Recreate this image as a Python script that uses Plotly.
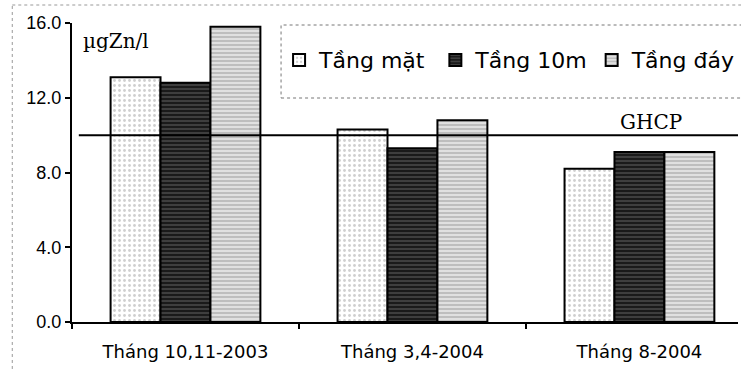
import plotly.graph_objects as go

categories = ["Tháng 10,11-2003", "Tháng 3,4-2004", "Tháng 8-2004"]
series_names = ["Tầng mặt", "Tầng 10m", "Tầng đáy"]
tang_mat = [13.1, 10.3, 8.2]
tang_10m = [12.8, 9.3, 9.1]
tang_day = [15.8, 10.8, 9.1]
ghcp = 10.0
y_ticks = [0, 4, 8, 12, 16]

x_pos = list(range(len(categories)))

styles = [
    dict(color="#f7f7f7", pattern=dict(shape=".", fgcolor="#a0a0a0", bgcolor="#ffffff", size=5, solidity=0.25)),
    dict(color="#2a2a2a", pattern=dict(shape="-", fgcolor="#808080", bgcolor="#1a1a1a", size=4, solidity=0.35)),
    dict(color="#c8c8c8", pattern=dict(shape="-", fgcolor="#8c8c8c", bgcolor="#e0e0e0", size=4, solidity=0.4)),
]

sans = "DejaVu Sans, Verdana, sans-serif"
arial = "Liberation Sans, Arial, sans-serif"
serif = "DejaVu Serif, Times New Roman, serif"

legend_names = ["legend", "legend2", "legend3"]
legend_starts_px = [280, 437, 594]

fig = go.Figure()
for name, vals, st, lg in zip(series_names, [tang_mat, tang_10m, tang_day], styles, legend_names):
    fig.add_trace(go.Bar(
        x=x_pos, y=vals, name=name, legend=lg,
        marker=dict(color=st["color"], pattern=st["pattern"],
                    line=dict(color="black", width=2)),
    ))

x_max = -0.5 + 669 / 228

legend_common = dict(orientation="h", xanchor="left", y=0.876, yanchor="middle",
                     font=dict(size=22, family=sans, color="black"),
                     bgcolor="rgba(0,0,0,0)", borderwidth=0)

layout_legends = {}
for lg, px in zip(legend_names, legend_starts_px):
    layout_legends[lg] = dict(legend_common, x=(px - 72) / 669)

fig.update_layout(
    width=741, height=372,
    margin=dict(l=72, r=0, t=23, b=50),
    paper_bgcolor="white", plot_bgcolor="white",
    barmode="group", bargap=0.34, bargroupgap=0,
    font=dict(family=arial, size=18, color="black"),
    showlegend=True,
    xaxis=dict(range=[-0.5, x_max], tickmode="array", tickvals=x_pos, ticktext=categories,
               ticks="", showline=True, linecolor="black", linewidth=2, showgrid=False,
               zeroline=False, tickfont=dict(size=18, family=sans), ticklabelstandoff=12,
               minor=dict(tickmode="array", tickvals=[-0.5, 0.5, 1.5, 2.5], ticks="outside",
                          ticklen=5, tickwidth=2, tickcolor="black", showgrid=False)),
    yaxis=dict(range=[0, 16], tickmode="array", tickvals=y_ticks,
               ticktext=[f"{v:.1f}" for v in y_ticks],
               ticks="outside", ticklen=5, tickwidth=2, tickcolor="black",
               showline=True, linecolor="black", linewidth=2, showgrid=False,
               zeroline=False, tickfont=dict(size=18, family=arial)),
    **layout_legends,
)

# GHCP guideline
fig.add_shape(type="line", xref="x", yref="y", x0=-0.47, x1=x_max, y0=ghcp, y1=ghcp,
              line=dict(color="black", width=2), layer="above")
fig.add_annotation(x=2.05, y=ghcp, xref="x", yref="y", text="GHCP", showarrow=False,
                   yanchor="bottom", yshift=-1, font=dict(family=serif, size=20, color="black"))
# unit label
fig.add_annotation(x=-0.46, y=16, xref="x", yref="y", text="µgZn/l", showarrow=False,
                   xanchor="left", yanchor="top", yshift=-4,
                   font=dict(family=serif, size=20, color="black"))
# legend box (dotted)
fig.add_shape(type="rect", xref="paper", yref="paper",
              x0=(282 - 72) / 669, x1=1.02, y0=1 - (98 - 23) / 299, y1=1 - (25 - 23) / 299,
              line=dict(color="#777777", width=1, dash="dot"), fillcolor="rgba(0,0,0,0)")
# outer chart frame (dotted)
fx = (12 - 72) / 669
fy = 1 + (23 - 5) / 299
fig.add_shape(type="line", xref="paper", yref="paper",
              x0=fx, x1=fx, y0=-50 / 299 - 0.01, y1=fy,
              line=dict(color="#999999", width=1, dash="dot"))
fig.add_shape(type="line", xref="paper", yref="paper",
              x0=fx, x1=1.02, y0=fy, y1=fy,
              line=dict(color="#999999", width=1, dash="dot"))

fig.write_html("out.html")
